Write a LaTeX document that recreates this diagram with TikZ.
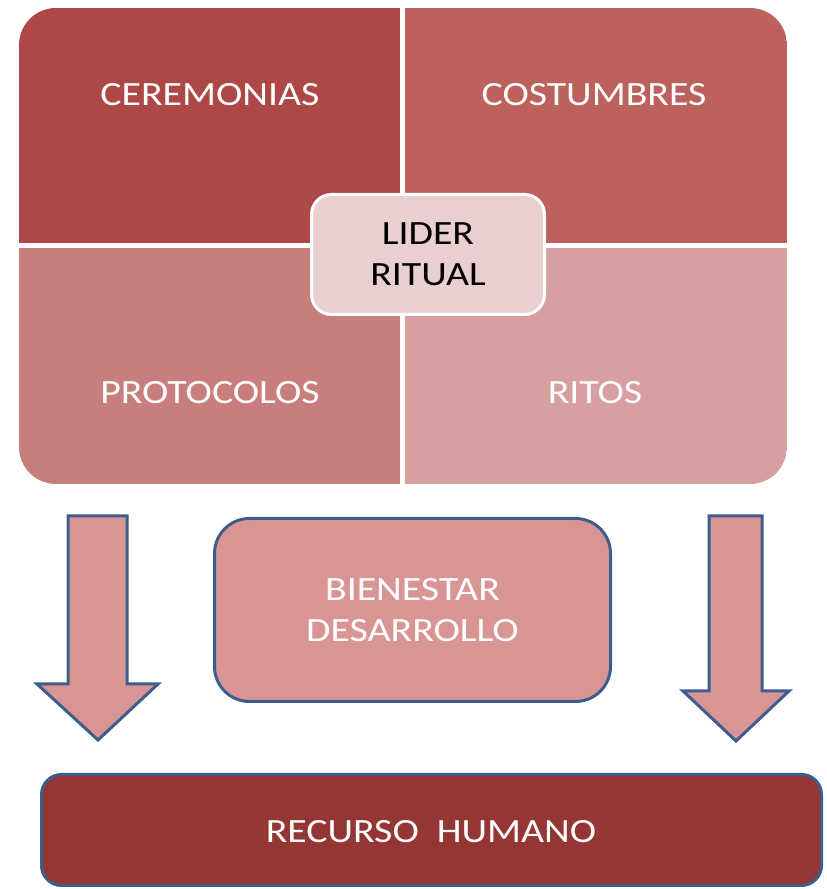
\documentclass[tikz,border=0pt]{standalone}
\usepackage{fontspec}
\setmainfont{Carlito}[FakeStretch=1.17]
\begin{document}
\begin{tikzpicture}[x=1pt,y=1pt,
  lbl/.style={text=white,font=\fontsize{34}{41}\selectfont,align=center,inner sep=0pt},
  blueline/.style={draw=bord,line width=3pt},
]
\definecolor{qa}{HTML}{AC4845}
\definecolor{qb}{HTML}{BD615D}
\definecolor{qc}{HTML}{C87E7D}
\definecolor{qd}{HTML}{D7A0A0}
\definecolor{lid}{HTML}{E9CFD0}
\definecolor{pink}{HTML}{D99594}
\definecolor{dark}{HTML}{943634}
\definecolor{bord}{HTML}{3B5E8C}
\useasboundingbox (0,0) rectangle (827,889);
% matrix quadrants
\begin{scope}
\clip[rounded corners=37pt] (19,405) rectangle (787,881);
\fill[qa] (19,643.5) rectangle (402.5,881);
\fill[qb] (402.5,643.5) rectangle (787,881);
\fill[qc] (19,405) rectangle (402.5,643.5);
\fill[qd] (402.5,405) rectangle (787,643.5);
\draw[white,line width=5pt] (402.5,400) -- (402.5,890);
\draw[white,line width=5pt] (10,643.5) -- (800,643.5);
\end{scope}
\node[lbl] (cer) at (210,794) {CEREMONIAS};
\node[lbl] (cos) at (594,794) {COSTUMBRES};
\node[lbl] (pro) at (210,496) {PROTOCOLOS};
\node[lbl] (rit) at (595,496) {RITOS};
\node[draw=white,line width=3pt,fill=lid,rounded corners=20pt,
  minimum width=233pt,minimum height=120pt,inner sep=0pt,
  font=\fontsize{34}{41}\selectfont,align=center] (lider) at (428,634.5) {LIDER\\RITUAL};
% arrows
\draw[blueline,fill=pink,line join=miter] (68,373) -- (127,373) -- (127,205) -- (158,205) -- (98,149) -- (37,205) -- (68,205) -- cycle;
\draw[blueline,fill=pink,line join=miter] (709,373) -- (762,373) -- (762,198) -- (789,198) -- (736,148) -- (683,198) -- (709,198) -- cycle;
% boxes
\node[blueline,fill=pink,rounded corners=35pt,minimum width=396pt,minimum height=183pt,
  inner sep=0pt,text=white,font=\fontsize{34}{41}\selectfont,align=center] (bien) at (412.5,279) {BIENESTAR\\DESARROLLO};
\node[blueline,fill=dark,rounded corners=20pt,minimum width=780pt,minimum height=111pt,
  inner sep=0pt,text=white,font=\fontsize{34}{41}\selectfont] (rec) at (431.5,59) {};
\node[lbl] (rectxt) at (431,57) {RECURSO\ \ HUMANO};
\end{tikzpicture}
\end{document}
